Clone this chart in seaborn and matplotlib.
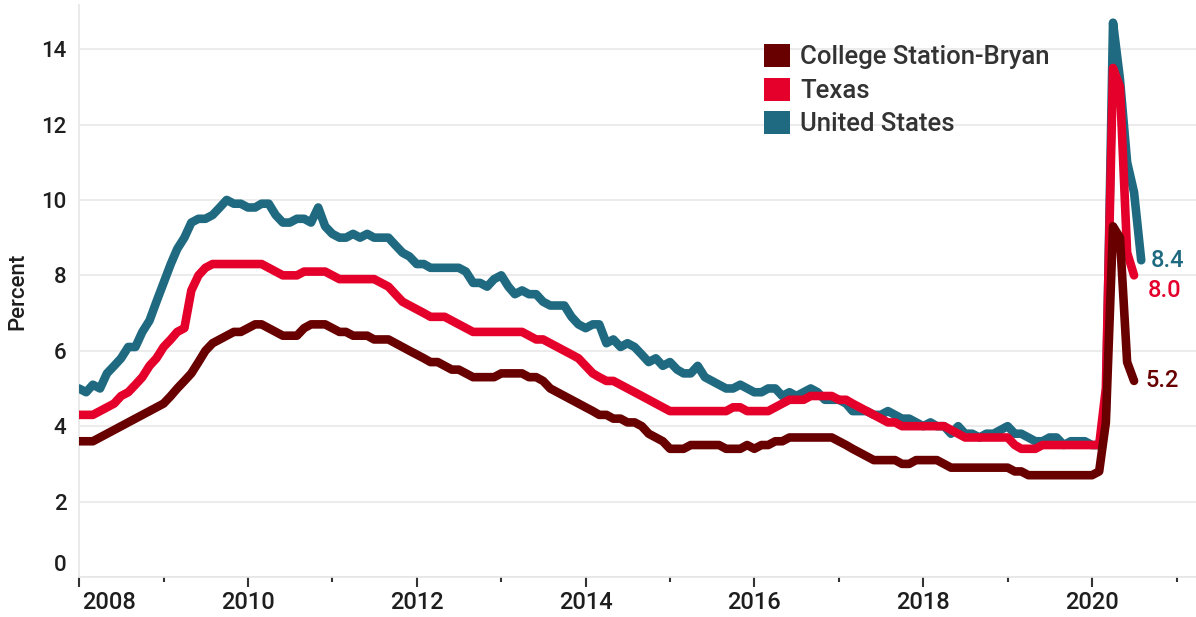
import numpy as np
import pandas as pd
import matplotlib
matplotlib.use("Agg")
import matplotlib.pyplot as plt
import matplotlib.dates as mdates
from matplotlib.patches import Patch
from matplotlib.transforms import ScaledTranslation
import seaborn as sns

# ---------------- data (monthly, starting Jan 2008) ----------------
start_month = "2008-01-01"

united_states = [
    5.0, 4.9, 5.1, 5.0, 5.4, 5.6, 5.8, 6.1, 6.1, 6.5, 6.8, 7.3,
    7.8, 8.3, 8.7, 9.0, 9.4, 9.5, 9.5, 9.6, 9.8, 10.0, 9.9, 9.9,
    9.8, 9.8, 9.9, 9.9, 9.6, 9.4, 9.4, 9.5, 9.5, 9.4, 9.8, 9.3,
    9.1, 9.0, 9.0, 9.1, 9.0, 9.1, 9.0, 9.0, 9.0, 8.8, 8.6, 8.5,
    8.3, 8.3, 8.2, 8.2, 8.2, 8.2, 8.2, 8.1, 7.8, 7.8, 7.7, 7.9,
    8.0, 7.7, 7.5, 7.6, 7.5, 7.5, 7.3, 7.2, 7.2, 7.2, 6.9, 6.7,
    6.6, 6.7, 6.7, 6.2, 6.3, 6.1, 6.2, 6.1, 5.9, 5.7, 5.8, 5.6,
    5.7, 5.5, 5.4, 5.4, 5.6, 5.3, 5.2, 5.1, 5.0, 5.0, 5.1, 5.0,
    4.9, 4.9, 5.0, 5.0, 4.8, 4.9, 4.8, 4.9, 5.0, 4.9, 4.7, 4.7,
    4.7, 4.6, 4.4, 4.4, 4.4, 4.3, 4.3, 4.4, 4.3, 4.2, 4.2, 4.1,
    4.0, 4.1, 4.0, 4.0, 3.8, 4.0, 3.8, 3.8, 3.7, 3.8, 3.8, 3.9,
    4.0, 3.8, 3.8, 3.7, 3.6, 3.6, 3.7, 3.7, 3.5, 3.6, 3.6, 3.6,
    3.5, 3.5, 4.4, 14.7, 13.2, 11.0, 10.2, 8.4,
]

texas = [
    4.3, 4.3, 4.3, 4.4, 4.5, 4.6, 4.8, 4.9, 5.1, 5.3, 5.6, 5.8,
    6.1, 6.3, 6.5, 6.6, 7.6, 8.0, 8.2, 8.3, 8.3, 8.3, 8.3, 8.3,
    8.3, 8.3, 8.3, 8.2, 8.1, 8.0, 8.0, 8.0, 8.1, 8.1, 8.1, 8.1,
    8.0, 7.9, 7.9, 7.9, 7.9, 7.9, 7.9, 7.8, 7.7, 7.5, 7.3, 7.2,
    7.1, 7.0, 6.9, 6.9, 6.9, 6.8, 6.7, 6.6, 6.5, 6.5, 6.5, 6.5,
    6.5, 6.5, 6.5, 6.5, 6.4, 6.3, 6.3, 6.2, 6.1, 6.0, 5.9, 5.8,
    5.6, 5.4, 5.3, 5.2, 5.2, 5.1, 5.0, 4.9, 4.8, 4.7, 4.6, 4.5,
    4.4, 4.4, 4.4, 4.4, 4.4, 4.4, 4.4, 4.4, 4.4, 4.5, 4.5, 4.4,
    4.4, 4.4, 4.4, 4.5, 4.6, 4.7, 4.7, 4.7, 4.8, 4.8, 4.8, 4.8,
    4.7, 4.7, 4.6, 4.5, 4.4, 4.3, 4.2, 4.1, 4.1, 4.0, 4.0, 4.0,
    4.0, 4.0, 4.0, 4.0, 3.9, 3.8, 3.7, 3.7, 3.7, 3.7, 3.7, 3.7,
    3.7, 3.5, 3.4, 3.4, 3.4, 3.5, 3.5, 3.5, 3.5, 3.5, 3.5, 3.5,
    3.5, 3.5, 5.0, 13.5, 13.0, 8.6, 8.0,
]

college_station_bryan = [
    3.6, 3.6, 3.6, 3.7, 3.8, 3.9, 4.0, 4.1, 4.2, 4.3, 4.4, 4.5,
    4.6, 4.8, 5.0, 5.2, 5.4, 5.7, 6.0, 6.2, 6.3, 6.4, 6.5, 6.5,
    6.6, 6.7, 6.7, 6.6, 6.5, 6.4, 6.4, 6.4, 6.6, 6.7, 6.7, 6.7,
    6.6, 6.5, 6.5, 6.4, 6.4, 6.4, 6.3, 6.3, 6.3, 6.2, 6.1, 6.0,
    5.9, 5.8, 5.7, 5.7, 5.6, 5.5, 5.5, 5.4, 5.3, 5.3, 5.3, 5.3,
    5.4, 5.4, 5.4, 5.4, 5.3, 5.3, 5.2, 5.0, 4.9, 4.8, 4.7, 4.6,
    4.5, 4.4, 4.3, 4.3, 4.2, 4.2, 4.1, 4.1, 4.0, 3.8, 3.7, 3.6,
    3.4, 3.4, 3.4, 3.5, 3.5, 3.5, 3.5, 3.5, 3.4, 3.4, 3.4, 3.5,
    3.4, 3.5, 3.5, 3.6, 3.6, 3.7, 3.7, 3.7, 3.7, 3.7, 3.7, 3.7,
    3.6, 3.5, 3.4, 3.3, 3.2, 3.1, 3.1, 3.1, 3.1, 3.0, 3.0, 3.1,
    3.1, 3.1, 3.1, 3.0, 2.9, 2.9, 2.9, 2.9, 2.9, 2.9, 2.9, 2.9,
    2.9, 2.8, 2.8, 2.7, 2.7, 2.7, 2.7, 2.7, 2.7, 2.7, 2.7, 2.7,
    2.7, 2.8, 4.1, 9.3, 9.0, 5.7, 5.2,
]

series_names = ["College Station-Bryan", "Texas", "United States"]
series_values = [college_station_bryan, texas, united_states]
series_colors = ["#680000", "#e4002b", "#1f6a80"]
y_ticks = [0, 2, 4, 6, 8, 10, 12, 14]

# ---------------- build long table ----------------
frames = []
for name, vals in zip(series_names, series_values):
    frames.append(pd.DataFrame({
        "date": pd.date_range(start_month, periods=len(vals), freq="MS"),
        "value": vals,
        "series": name,
    }))
df = pd.concat(frames, ignore_index=True)

# ---------------- style ----------------
sns.set_theme(style="white")
plt.rcParams["font.family"] = ["Roboto", "DejaVu Sans"]
text_color = "#1e1e1e"

W, H = 1196, 617
fig = plt.figure(figsize=(W / 100, H / 100), dpi=100)
ax = fig.add_axes([79 / W, 1 - 577 / H, 1 - 79 / W, (577 - 5) / H])

palette = dict(zip(series_names, series_colors))
draw_order = ["United States", "Texas", "College Station-Bryan"]
sns.lineplot(data=df, x="date", y="value", hue="series", hue_order=draw_order,
             palette=palette, linewidth=6.2, legend=False, ax=ax, zorder=3)
for ln in ax.lines:
    ln.set_solid_capstyle("round")
    ln.set_solid_joinstyle("round")

ax.set_ylim(0, 15.17)
ax.set_xlim(pd.Timestamp("2008-01-01"), pd.Timestamp("2021-03-26"))

# grid
ax.set_yticks(y_ticks)
ax.yaxis.grid(True, color="#ececec", linewidth=1.5, zorder=0)
ax.xaxis.grid(False)
for s in ["top", "right"]:
    ax.spines[s].set_visible(False)
ax.spines["left"].set_color("#e6e6e6")
ax.spines["left"].set_linewidth(1.2)
ax.spines["bottom"].set_color("#e6e6e6")
ax.spines["bottom"].set_linewidth(1.2)

# x ticks
ax.xaxis.set_major_locator(mdates.YearLocator(2))
ax.xaxis.set_minor_locator(mdates.YearLocator(1))
ax.xaxis.set_major_formatter(mdates.DateFormatter("%Y"))
ax.tick_params(axis="x", which="major", length=7, width=1.5, color="#333333",
               labelsize=17, labelcolor=text_color, pad=3, bottom=True)
ax.tick_params(axis="x", which="minor", length=3.5, width=1.5, color="#333333", bottom=True)
ax.tick_params(axis="y", length=0, labelsize=16, labelcolor=text_color, pad=9)
for lab in ax.get_xticklabels() + ax.get_yticklabels():
    lab.set_fontweight("medium")

ax.set_xlabel("")
ax.set_ylabel("Percent", fontsize=16, color=text_color, fontweight="medium")
ax.yaxis.set_label_coords(-51 / 1117, 0.5)

fig.canvas.draw()
xl = ax.get_xticklabels()
for lab in xl:
    lab.set_fontweight("medium")
if xl:
    xl[0].set_horizontalalignment("left")
    xl[0].set_transform(xl[0].get_transform() + ScaledTranslation(3 / 100, 0, fig.dpi_scale_trans))
yl = ax.get_yticklabels()
for lab in yl:
    lab.set_fontweight("medium")
if yl:
    yl[0].set_transform(yl[0].get_transform() + ScaledTranslation(0, 14 / 100, fig.dpi_scale_trans))

# end labels
offsets = {"United States": (7, 0), "Texas": (10, -11), "College Station-Bryan": (8, 0)}
for name, vals, col in zip(series_names, series_values, series_colors):
    last_date = pd.date_range(start_month, periods=len(vals), freq="MS")[-1]
    ax.annotate(f"{vals[-1]:.1f}", xy=(last_date, vals[-1]), xytext=offsets[name],
                textcoords="offset points", color=col, fontsize=17, fontweight="medium",
                va="center", ha="left", zorder=5)

# legend
handles = [Patch(facecolor=c, edgecolor="none") for c in series_colors]
fig.legend(handles, series_names, loc="upper left",
           bbox_to_anchor=(764 / W, 1 - 44 / H), frameon=False,
           prop={"size": 18.5, "weight": "medium"}, labelcolor="#333333",
           borderpad=0, borderaxespad=0,
           handlelength=1.0, handleheight=1.0, handletextpad=0.4,
           labelspacing=0.32)

fig.savefig("out.png", dpi=100)
